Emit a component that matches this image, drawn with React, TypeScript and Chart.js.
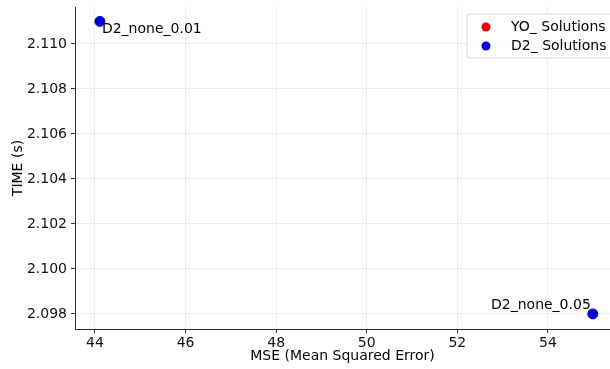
import React, { useEffect, useRef } from "react";
import { Chart, registerables } from "chart.js";

Chart.register(...registerables);

const yoLabels: string[] = [];
const yoMse: number[] = [];
const yoTime: number[] = [];

const d2Labels = ["D2_none_0.01", "D2_none_0.05"];
const d2Mse = [44.11, 54.99];
const d2Time = [2.111, 2.098];

const xTicks = [44, 46, 48, 50, 52, 54];
const yTicks = [2.098, 2.1, 2.102, 2.104, 2.106, 2.108, 2.11];

const FONT = "'DejaVu Sans', sans-serif";
const FS = 14;

const overlay = {
  id: "overlay",
  afterDatasetsDraw(chart: any) {
    const ctx = chart.ctx;
    const xs = chart.scales.x;
    const ys = chart.scales.y;
    ctx.save();
    ctx.font = `${FS}px ${FONT}`;
    ctx.fillStyle = "#000";
    ctx.textBaseline = "middle";
    d2Labels.forEach((lab, i) => {
      const px = xs.getPixelForValue(d2Mse[i]);
      const py = ys.getPixelForValue(d2Time[i]);
      if (i === 0) {
        ctx.textAlign = "left";
        ctx.fillText(lab, px + 2, py + 8);
      } else {
        ctx.textAlign = "right";
        ctx.fillText(lab, px - 2, py - 9);
      }
    });
    yoLabels.forEach((lab, i) => {
      const px = xs.getPixelForValue(yoMse[i]);
      const py = ys.getPixelForValue(yoTime[i]);
      ctx.textAlign = "left";
      ctx.fillText(lab, px + 2, py + 8);
    });
    // legend
    const lx = 467, ly = 14, lw = 150, lh = 44;
    ctx.beginPath();
    const r = 3;
    ctx.moveTo(lx + r, ly);
    ctx.lineTo(lx + lw - r, ly);
    ctx.arcTo(lx + lw, ly, lx + lw, ly + r, r);
    ctx.lineTo(lx + lw, ly + lh - r);
    ctx.arcTo(lx + lw, ly + lh, lx + lw - r, ly + lh, r);
    ctx.lineTo(lx + r, ly + lh);
    ctx.arcTo(lx, ly + lh, lx, ly + lh - r, r);
    ctx.lineTo(lx, ly + r);
    ctx.arcTo(lx, ly, lx + r, ly, r);
    ctx.closePath();
    ctx.fillStyle = "rgba(255,255,255,0.85)";
    ctx.fill();
    ctx.strokeStyle = "#d9d9d9";
    ctx.lineWidth = 1;
    ctx.stroke();
    const items = [
      { label: "YO_ Solutions", color: "#ee0000" },
      { label: "D2_ Solutions", color: "#0000cc" },
    ];
    items.forEach((it, i) => {
      const cy = 27 + i * 19;
      ctx.beginPath();
      ctx.arc(486, cy, 4.5, 0, Math.PI * 2);
      ctx.fillStyle = it.color;
      ctx.fill();
      ctx.fillStyle = "#000";
      ctx.textAlign = "left";
      ctx.fillText(it.label, 511, cy);
    });
    ctx.restore();
  },
};

export default function App() {
  const ref = useRef<HTMLCanvasElement>(null);
  useEffect(() => {
    if (!ref.current) return;
    const chart = new Chart(ref.current, {
      type: "scatter",
      data: {
        datasets: [
          {
            label: "YO_ Solutions",
            data: yoMse.map((x, i) => ({ x, y: yoTime[i] })),
            backgroundColor: "#ee0000",
            borderColor: "#ee0000",
            pointRadius: 5,
          },
          {
            label: "D2_ Solutions",
            data: d2Mse.map((x, i) => ({ x, y: d2Time[i] })),
            backgroundColor: "#0000cc",
            borderColor: "#0000cc",
            pointRadius: 5,
          },
        ],
      },
      options: {
        responsive: false,
        animation: false,
        layout: { autoPadding: false, padding: { top: 7, right: 0, left: 0, bottom: 0 } },
        plugins: { legend: { display: false }, tooltip: { enabled: false } },
        scales: {
          x: {
            type: "linear",
            min: 43.56,
            max: 55.37,
            afterBuildTicks: (s: any) => {
              s.ticks = xTicks.map((v) => ({ value: v }));
            },
            afterFit: (s: any) => {
              s.height = 40;
              s.paddingLeft = 0;
              s.paddingRight = 0;
            },
            ticks: {
              font: { family: FONT, size: FS },
              color: "#111",
              padding: 2,
              maxRotation: 0,
              callback: (v: any) => String(v),
            },
            grid: {
              color: "#ebebeb",
              tickColor: "#333",
              tickLength: 4,
              drawTicks: true,
            },
            border: { display: true, color: "#333", width: 1 },
            title: {
              display: true,
              text: "MSE (Mean Squared Error)",
              font: { family: FONT, size: FS },
              color: "#000",
              padding: { top: 0, bottom: 4 },
            },
          },
          y: {
            type: "linear",
            min: 2.09733,
            max: 2.11164,
            afterBuildTicks: (s: any) => {
              s.ticks = yTicks.map((v) => ({ value: v }));
            },
            afterFit: (s: any) => {
              s.width = 75;
              s.paddingTop = 0;
              s.paddingBottom = 0;
            },
            ticks: {
              font: { family: FONT, size: FS },
              color: "#111",
              padding: 4,
              callback: (v: any) => Number(v).toFixed(3),
            },
            grid: {
              color: "#ebebeb",
              tickColor: "#333",
              tickLength: 4,
              drawTicks: true,
            },
            border: { display: true, color: "#333", width: 1 },
            title: {
              display: true,
              text: "TIME (s)",
              font: { family: FONT, size: FS },
              color: "#000",
              padding: { top: 10, bottom: 0 },
            },
          },
        },
      },
      plugins: [overlay],
    } as any);
    return () => chart.destroy();
  }, []);
  return (
    <canvas
      ref={ref}
      width={610}
      height={369}
      style={{ position: "fixed", left: 0, top: 0, width: 610, height: 369, background: "#fff" }}
    />
  );
}
